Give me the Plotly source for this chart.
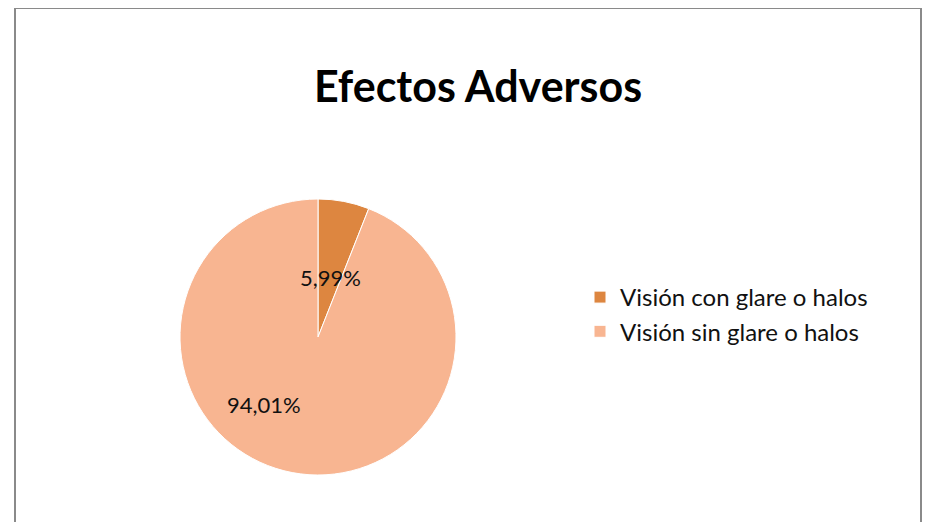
import plotly.graph_objects as go

labels = ["Visión con glare o halos", "Visión sin glare o halos"]
values = [5.99, 94.01]
value_text = ["5,99%", "94,01%"]
colors = ["#DD8640", "#F8B591"]

W, H = 935, 522
OFF = 8  # page offset of the figure div


def px(x):
    return (x - OFF) / W


def py(y):
    return 1 - (y - OFF) / H


cx, cy, r = 318, 337, 138

fig = go.Figure(go.Pie(
    labels=labels,
    values=values,
    sort=False,
    direction="clockwise",
    rotation=0,
    marker=dict(colors=colors, line=dict(color="white", width=1)),
    textinfo="none",
    hoverinfo="label+percent",
    domain=dict(x=[px(cx - r), px(cx + r)], y=[py(cy + r), py(cy - r)]),
))

# data labels
label_pos = [(330, 277), (264, 404)]
for t, (x, y) in zip(value_text, label_pos):
    fig.add_annotation(x=px(x), y=py(y), xref="paper", yref="paper", text=t,
                       xanchor="center", yanchor="middle",
                       showarrow=False, font=dict(size=22, color="#111111", family="Lato"))

fig.add_shape(type="rect", xref="paper", yref="paper",
              x0=px(15), x1=px(921), y0=-0.1, y1=py(8),
              line=dict(color="#8a8a8a", width=2), fillcolor="rgba(0,0,0,0)")

fig.update_layout(
    width=W, height=H,
    margin=dict(l=0, r=0, t=0, b=0),
    paper_bgcolor="white",
    plot_bgcolor="white",
    title=dict(text="<b>Efectos Adversos</b>", x=px(478), xanchor="center",
               y=py(87), yanchor="middle",
               font=dict(size=43, color="black", family="Lato")),
    legend=dict(x=px(580), y=py(275), xanchor="left", yanchor="top",
                font=dict(size=24, color="#111111", family="Lato"),
                bgcolor="rgba(0,0,0,0)"),
    showlegend=True,
)

fig.write_html("out.html")
